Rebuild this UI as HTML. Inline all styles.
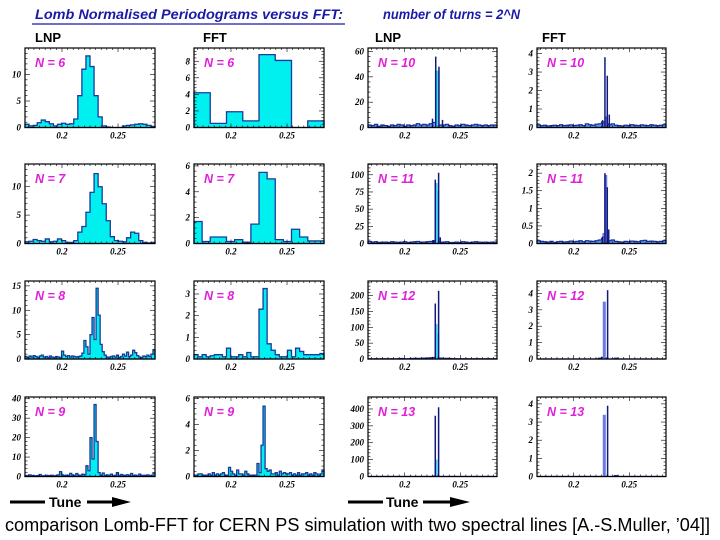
<!DOCTYPE html>
<html><head><meta charset="utf-8">
<style>
html,body{margin:0;padding:0;background:#fff;}
svg{display:block;}
.ttl{font-family:"Liberation Sans",sans-serif;font-weight:bold;font-style:italic;fill:#1a1aa8;font-size:14px;}
.hdr{font-family:"Liberation Sans",sans-serif;font-weight:bold;font-size:13px;fill:#000;}
.nlab{font-family:"Liberation Sans",sans-serif;font-weight:bold;font-style:italic;font-size:12.5px;fill:#e020d8;}
.tk{font-family:"Liberation Serif",serif;font-weight:bold;font-style:italic;font-size:9px;fill:#000;}
.cap{font-family:"Liberation Sans",sans-serif;font-size:18px;fill:#000;}
.tune{font-family:"Liberation Sans",sans-serif;font-weight:bold;font-size:14px;fill:#000;}
</style></head>
<body>
<svg id="root" width="720" height="540" viewBox="0 0 720 540" xmlns="http://www.w3.org/2000/svg">
<text class="ttl" x="35" y="19" textLength="308" lengthAdjust="spacingAndGlyphs">Lomb Normalised Periodograms versus FFT:</text>
<line x1="32" y1="24" x2="345" y2="24" stroke="#1a1aa8" stroke-width="1.2"/>
<text class="ttl" x="383" y="19" textLength="137" lengthAdjust="spacingAndGlyphs">number of turns = 2^N</text>
<text class="hdr" x="35" y="42">LNP</text>
<text class="hdr" x="203" y="42">FFT</text>
<text class="hdr" x="375" y="42">LNP</text>
<text class="hdr" x="542" y="42">FFT</text>
<g>
<line x1="10" y1="502" x2="45" y2="502" stroke="#000" stroke-width="3"/>
<text class="tune" x="49" y="507">Tune</text>
<line x1="87" y1="502" x2="118" y2="502" stroke="#000" stroke-width="3"/>
<polygon points="112,497 131,502 112,507" fill="#000"/>
</g>
<g>
<line x1="348" y1="502" x2="383" y2="502" stroke="#000" stroke-width="3"/>
<text class="tune" x="386" y="507">Tune</text>
<line x1="423" y1="502" x2="455" y2="502" stroke="#000" stroke-width="3"/>
<polygon points="450,497 470,502 450,507" fill="#000"/>
</g>
<text class="cap" x="5" y="531" textLength="705" lengthAdjust="spacingAndGlyphs">comparison Lomb-FFT for CERN PS simulation with two spectral lines [A.-S.Muller, ’04]]</text>
</svg>
<script>
// ---- data ----
const tuneMin = 0.167, tuneMax = 0.283;
const xTicks = [0.2, 0.25];
const xTickLabels = ["0.2", "0.25"];
const lnp6 = [0.6,0.3,0.4,0.9,1.4,1.1,0.7,0.3,0.6,0.8,0.6,0.7,1.6,6,11,13.5,11.5,6,2,0.3,0.1,0,0,0,0.3,0.4,0.5,0.6,0.7,0.6,0.4,0.2];
const fft6 = [4.2,0.5,1.9,0.8,8.8,8.1,0,0.8];
const lnp7 = [0.3,0.4,0.7,0.5,0.4,0.8,0.3,0.4,0.8,0.5,0.2,0.2,0.5,2,3,5.5,9,12.3,10,7,4,1.2,0.5,0.4,0.3,1,2,1.8,0.5,0.2,0.1,0.2];
const fft7 = [1.7,0.15,0.5,0.5,0.15,0.3,0.1,1.5,5.5,5.0,0.3,0.15,1.1,0.5,0.2,0.2];
const lnp8 = [0.5,0.3,0.6,0.4,0.7,0.5,0.3,0.6,0.8,0.4,0.5,0.3,0.6,0.4,0.3,0.5,0.4,0.3,1.6,0.8,0.5,0.7,0.4,0.6,0.5,0.4,0.5,0.6,1.2,3.8,2.5,1,5,8.5,4,14.5,9,3,1.5,0.8,0.4,0.3,0.5,0.6,0.4,0.8,0.3,0.5,1,0.6,1.4,0.5,0.8,1.8,1.3,0.7,0.4,0.3,0.6,0.5,0.8,0.5,1,1.8];
const fft8 = [0.2,0.1,0.2,0.1,0.15,0.2,0.2,0.1,0.5,0.1,0.1,0.2,0.1,0.3,0.1,0.1,2.3,3.25,0.7,0.4,0.2,0.1,0.1,0.4,0.1,0.5,0.35,0.2,0.2,0.2,0.2,0.25];
const lnp9 = [0.5,0.3,0.8,0.5,0.3,0.4,0.5,1,0.4,0.3,0.6,0.5,0.4,0.6,0.3,0.5,0.8,2.5,0.8,0.5,0.7,0.6,1.6,0.8,0.5,1.5,0.7,0.6,1.2,0.9,5.5,3,20,9,37,18,2,0.6,1.8,0.5,0.8,0.5,1.2,0.4,0.6,2,0.5,1,0.4,0.6,0.9,0.3,1.5,0.5,0.7,0.4,1.2,0.5,0.6,0.4,0.8,0.5,0.4,1.8];
const fft9 = [0.1,0.1,0.2,0.2,0.1,0.1,0.1,0.2,0.1,0.3,0.1,0.2,0.1,0.2,0.3,0.1,0.1,0.7,0.4,0.2,0.1,0.5,0.2,0.2,0.1,0.4,0.2,0.1,0.1,0.1,0.1,1,0.3,2.4,5.4,0.6,0.4,0.5,0.2,0.2,0.3,0.1,0.4,0.2,0.3,0.2,0.2,0.3,0.1,0.2,0.1,0.3,0.1,0.2,0.2,0.3,0.1,0.2,0.1,0.3,0.2,0.1,0.2,0.5];
const lnp10Noise = [2,1.5,2.5,1,2,1.5,1,2,1.5,2.5,2,1,2,1.5,2,3,2,2.5,2,3,4,3,2,2,2.5,1.5,1,2,1.5,2.5,2,1.5,2,2.5,2,1.5,2,1.5,2,2];
const lnp10SpikeTune = [0.2250,0.2279,0.2308,0.2340];
const lnp10SpikeVal = [7,56,48,6];
const lnp10LightTune = [0.2285,0.2300];
const lnp10LightVal = [45,45];
const fft10Noise = [0.15,0.1,0.12,0.08,0.1,0.12,0.1,0.15,0.1,0.12,0.14,0.1,0.12,0.15,0.1,0.2,0.15,0.12,0.18,0.2,0.3,0.2,0.15,0.2,0.12,0.1,0.08,0.12,0.1,0.15,0.12,0.1,0.14,0.12,0.1,0.15,0.12,0.1,0.12,0.15];
const fft10SpikeTune = [0.2260,0.2281,0.2302,0.2320];
const fft10SpikeVal = [0.4,3.8,2.8,0.7];
const fft10LightTune = [0.2290];
const fft10LightVal = [0.6];
const lnp11Noise = [3,2,2.5,1.5,2,2,1.5,2.5,2,1.5,2,2.5,1.5,2,2.5,3,2,2,2.5,3,4,3,2,2,2.5,1.5,1.5,2,1.5,2.5,2,1.5,2,2.5,2,1.5,2,1.5,2,2];
const lnp11SpikeTune = [0.2260,0.2275,0.2305,0.2320];
const lnp11SpikeVal = [5,93,103,9];
const lnp11LightTune = [0.2282,0.2298];
const lnp11LightVal = [88,77];
const fft11Noise = [0.08,0.06,0.05,0.04,0.06,0.03,0.05,0.06,0.04,0.05,0.07,0.05,0.06,0.08,0.05,0.08,0.07,0.06,0.08,0.1,0.15,0.12,0.08,0.1,0.06,0.05,0.04,0.06,0.05,0.07,0.06,0.05,0.08,0.09,0.06,0.07,0.06,0.05,0.06,0.08];
const fft11SpikeTune = [0.2260,0.2281,0.2302,0.2315];
const fft11SpikeVal = [0.2,2.0,1.6,0.4];
const fft11LightTune = [0.2272,0.2288,0.2295];
const fft11LightVal = [0.3,1.95,0.35];
const lnp12Noise = [1,0.5,1,0.5,1,1,0.5,1,0.5,1,1.5,1,1,1.5,2,2,2,3,3,4,5,4,3,2,2,1.5,1,1,1,1,1,0.5,1,1,1,0.5,1,1,1,1];
const lnp12SpikeTune = [0.2275,0.2305];
const lnp12SpikeVal = [175,215];
const lnp12LightTune = [0.2282,0.2298];
const lnp12LightVal = [110,80];
const fft12Noise = [0,0,0,0,0,0,0,0,0,0,0,0,0,0,0,0,0,0,0,0.05,0.1,0.05,0,0,0.05,0,0,0,0,0,0,0,0,0,0,0,0,0,0,0];
const fft12SpikeTune = [0.2305];
const fft12SpikeVal = [4.2];
const fft12LightTune = [0.2275];
const fft12LightVal = [3.5];
const lnp13Noise = [0,0,0,0,0,0,0,0,0,0,0,0,0,0,0,0,0,0,0,0,2,2,0,0,0,0,0,0,0,0,0,0,0,0,0,0,0,0,0,0];
const lnp13SpikeTune = [0.2275,0.2305];
const lnp13SpikeVal = [360,410];
const lnp13LightTune = [0.2282];
const lnp13LightVal = [100];
const fft13Noise = [0,0,0,0,0,0,0,0,0,0,0,0,0,0,0,0,0,0,0,0,0,0,0,0,0.05,0,0,0,0,0,0,0,0,0,0,0,0,0,0,0];
const fft13SpikeTune = [0.2305];
const fft13SpikeVal = [3.9];
const fft13LightTune = [0.2275];
const fft13LightVal = [3.4];
const yMaxes = [15,9.6,62.8,4.3, 14,6.15,115.7,2.26, 16,3.6,246,4.76, 40.9,6.1,471,4.38];
const yTickSets = [[0,5,10],[0,2,4,6,8],[0,20,40,60],[0,1,2,3,4],
  [0,5,10],[0,2,4,6],[0,25,50,75,100],[0,0.5,1,1.5,2],
  [0,5,10,15],[0,1,2,3],[0,50,100,150,200],[0,1,2,3,4],
  [0,10,20,30,40],[0,2,4,6],[0,100,200,300,400],[0,1,2,3,4]];
const nLabels = ["N = 6","N = 6","N = 10","N = 10","N = 7","N = 7","N = 11","N = 11","N = 8","N = 8","N = 12","N = 12","N = 9","N = 9","N = 13","N = 13"];

// ---- layout ----
const colX = [25,194,368,537];
const colW = [130,130,129,129];
const rowTop = [48,164,281,397];
const rowBot = [127.5,243.5,359,476.5];
const NS = "http://www.w3.org/2000/svg";
const root = document.getElementById('root');
function mk(tag, attrs, parent){const e=document.createElementNS(NS,tag);for(const k in attrs)e.setAttribute(k,attrs[k]);(parent||root).appendChild(e);return e;}

const histData = {0:lnp6,1:fft6,4:lnp7,5:fft7,8:lnp8,9:fft8,12:lnp9,13:fft9};
const spikeData = {
 2:[lnp10Noise,lnp10SpikeTune,lnp10SpikeVal,lnp10LightTune,lnp10LightVal],
 3:[fft10Noise,fft10SpikeTune,fft10SpikeVal,fft10LightTune,fft10LightVal],
 6:[lnp11Noise,lnp11SpikeTune,lnp11SpikeVal,lnp11LightTune,lnp11LightVal],
 7:[fft11Noise,fft11SpikeTune,fft11SpikeVal,fft11LightTune,fft11LightVal],
 10:[lnp12Noise,lnp12SpikeTune,lnp12SpikeVal,lnp12LightTune,lnp12LightVal],
 11:[fft12Noise,fft12SpikeTune,fft12SpikeVal,fft12LightTune,fft12LightVal],
 14:[lnp13Noise,lnp13SpikeTune,lnp13SpikeVal,lnp13LightTune,lnp13LightVal],
 15:[fft13Noise,fft13SpikeTune,fft13SpikeVal,fft13LightTune,fft13LightVal]};

for(let i=0;i<16;i++){
  const r=Math.floor(i/4), c=i%4;
  const x0=colX[c], w=colW[c], y0=rowTop[r], yb=rowBot[r], h=yb-y0, ymax=yMaxes[i];
  const sx=t=>x0+(t-tuneMin)/(tuneMax-tuneMin)*w;
  const sy=v=>yb-Math.min(v,ymax)/ymax*h;
  const g=mk('g',{});
  
  
  if(histData[i]){
    const vals=histData[i], n=vals.length;
    let d='M'+x0+','+yb;
    for(let k=0;k<n;k++){
      const xa=sx(tuneMin+(tuneMax-tuneMin)*k/n), xb=sx(tuneMin+(tuneMax-tuneMin)*(k+1)/n);
      d+=' L'+xa+','+sy(vals[k])+' L'+xb+','+sy(vals[k]);
    }
    d+=' L'+(x0+w)+','+yb+' Z';
    const p=mk('path',{d:d,fill:'#00f0f0',stroke:'#1a3a9c','stroke-width':1.3},g);
    
    
  } else {
    const [noise,st,sv,lt,lv]=spikeData[i];
    const n=noise.length;
    let d='M'+x0+','+yb;
    for(let k=0;k<n;k++){
      const xa=sx(tuneMin+(tuneMax-tuneMin)*k/n), xb=sx(tuneMin+(tuneMax-tuneMin)*(k+1)/n);
      d+=' L'+xa+','+sy(noise[k])+' L'+xb+','+sy(noise[k]);
    }
    d+=' L'+(x0+w)+','+yb+' Z';
    const p=mk('path',{d:d,fill:'#4aa0f0',stroke:'#1a2a9c','stroke-width':1.2},g);
    
    
    for(let k=0;k<lt.length;k++){
      const b=mk('rect',{x:sx(lt[k])-1.5,y:sy(lv[k]),width:3,height:yb-sy(lv[k]),fill:(c===3?'#6a78e0':'#40d8f0')},g);
      
      
    }
    for(let k=0;k<st.length;k++){
      const l=mk('line',{x1:sx(st[k]),x2:sx(st[k]),y1:yb,y2:sy(sv[k]),stroke:'#101a80','stroke-width':1.5},g);
      
      
    }
  }
  const fr=mk('rect',{x:x0,y:y0,width:w,height:h,fill:'none',stroke:'#000','stroke-width':1.2},g);
  
  
  for(let t=0.17;t<=0.2801;t+=0.005){
    const x=sx(t); const major=Math.abs(t*100-Math.round(t*100))<1e-6 && Math.round(t*1000)%50===0;
    const len=major?4:2;
    mk('line',{x1:x,x2:x,y1:yb,y2:yb-len,stroke:'#000','stroke-width':0.6},g);
    mk('line',{x1:x,x2:x,y1:y0,y2:y0+len,stroke:'#000','stroke-width':0.6},g);
  }
  for(let k=0;k<xTicks.length;k++){
    const tl=mk('text',{x:sx(xTicks[k]),y:yb+11,'text-anchor':'middle',class:'tk'},g);
    tl.textContent=xTickLabels[k];
    
    
  }
  const yt=yTickSets[i], step=yt[1]-yt[0];
  for(let v=0;v<=ymax+1e-9;v+=step/5){
    const y=sy(v); const major=Math.abs(v/step-Math.round(v/step))<1e-6;
    const len=major?5:2.5;
    mk('line',{x1:x0,x2:x0+len,y1:y,y2:y,stroke:'#000','stroke-width':0.6},g);
    mk('line',{x1:x0+w,x2:x0+w-len,y1:y,y2:y,stroke:'#000','stroke-width':0.6},g);
  }
  for(let k=0;k<yt.length;k++){
    const tl=mk('text',{x:x0-4,y:sy(yt[k])+3,'text-anchor':'end',class:'tk'},g);
    tl.textContent=String(yt[k]);
    
    
  }
  const nl=mk('text',{x:x0+10,y:y0+19,class:'nlab'},g);
  nl.textContent=nLabels[i];
  
  
}
</script>
</body></html>
